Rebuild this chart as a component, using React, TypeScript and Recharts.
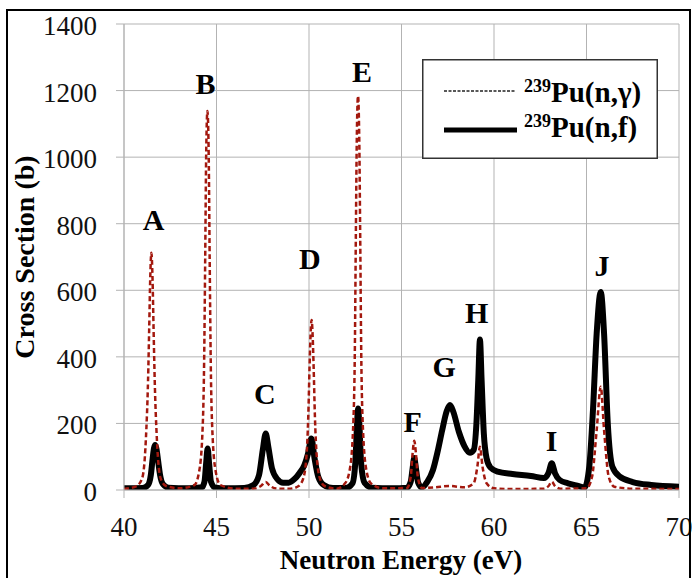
import React from 'react';
import { LineChart, Line, XAxis, YAxis, CartesianGrid, ReferenceDot, Legend } from 'recharts';

// Neutron energy (eV) and cross sections (b)
const fissionEnergy = [
  40.0, 41.0, 41.3, 41.45, 41.55, 41.62, 41.68, 41.75, 41.85, 41.95, 42.1, 42.4,
  43.5, 44.2, 44.35, 44.44, 44.52, 44.6, 44.7, 44.9, 45.5,
  46.5, 47.0, 47.3, 47.5, 47.66, 47.8, 48.0, 48.3, 48.6, 48.9, 49.2, 49.5, 49.75, 49.95, 50.13, 50.3, 50.5, 50.8, 51.3,
  52.0, 52.35, 52.5, 52.6, 52.65, 52.72, 52.82, 53.0, 53.4, 54.5,
  55.3, 55.5, 55.6, 55.69, 55.78, 55.9, 56.1, 56.4, 56.7, 56.95, 57.2, 57.45, 57.62, 57.8, 58.1, 58.4, 58.7, 58.9,
  59.05, 59.15, 59.24, 59.33, 59.45, 59.6, 59.8, 60.2, 61.0, 62.0, 62.7, 62.95, 63.12, 63.3, 63.55, 64.0, 64.5, 64.9,
  65.15, 65.35, 65.55, 65.77, 65.95, 66.15, 66.4, 66.8, 67.5, 68.5, 70.0,
];
const fissionXS = [
  5, 6, 15, 45, 95, 125, 135, 125, 85, 45, 18, 7,
  5, 8, 25, 80, 125, 80, 25, 8, 5,
  6, 15, 45, 120, 170, 130, 65, 32, 22, 22, 32, 52, 75, 110, 155, 95, 40, 15, 6,
  6, 20, 80, 200, 245, 200, 80, 22, 7, 5,
  7, 25, 65, 96, 65, 22, 8, 25, 60, 115, 180, 238, 255, 235, 175, 132, 112, 120,
  200, 330, 452, 330, 170, 95, 68, 55, 48, 42, 36, 52, 80, 50, 30, 20, 13, 8,
  70, 240, 470, 595, 470, 200, 70, 40, 24, 15, 10,
];

const captureEnergy = [
  40.0, 40.68, 40.98, 41.18, 41.3, 41.36, 41.42, 41.48, 41.54, 41.6, 41.66, 41.78, 41.98, 42.28, 43.0,
  43.81, 44.06, 44.23, 44.33, 44.39, 44.44, 44.51, 44.58, 44.63, 44.69, 44.79, 44.96, 45.21, 46.0,
  47.0, 47.4, 47.66, 47.9, 48.3, 49.0,
  49.44, 49.69, 49.86, 49.96, 50.03, 50.08, 50.14, 50.2, 50.25, 50.32, 50.42, 50.59, 50.84, 51.5,
  51.95, 52.2, 52.38, 52.48, 52.53, 52.58, 52.65, 52.72, 52.77, 52.82, 52.92, 53.1, 53.35, 54.0,
  55.3, 55.5, 55.6, 55.69, 55.78, 55.88, 56.1, 56.8, 57.6, 58.4, 58.9, 59.1, 59.24, 59.38, 59.6, 60.0,
  61.0, 62.7, 62.95, 63.12, 63.3, 63.6, 65.0, 65.3, 65.55, 65.77, 65.95, 66.2, 66.5, 67.5, 70.0,
];
const captureXS = [
  3, 12, 35, 150, 330, 480, 640, 713, 640, 480, 330, 150, 35, 12, 5,
  15, 55, 160, 380, 700, 1000, 1139, 1000, 700, 380, 160, 55, 15, 4,
  4, 12, 24, 12, 4, 4,
  12, 35, 100, 220, 370, 460, 511, 460, 370, 220, 100, 35, 12, 4,
  20, 60, 180, 430, 750, 1040, 1184, 1040, 750, 430, 180, 60, 20, 5,
  6, 40, 110, 148, 110, 40, 6, 8, 12, 8, 20, 70, 130, 70, 20, 5,
  3, 4, 12, 25, 12, 4, 5, 40, 180, 310, 180, 40, 10, 4, 3,
];

const xTicks = [40, 45, 50, 55, 60, 65, 70];
const yTicks = [0, 200, 400, 600, 800, 1000, 1200, 1400];

const peakLetters = ['A', 'B', 'C', 'D', 'E', 'F', 'G', 'H', 'I', 'J'];
const peakLetterEnergy = [41.6, 44.41, 47.61, 50.05, 52.86, 55.6, 57.3, 59.06, 63.11, 65.84];
const peakLetterXS = [811, 1220, 288, 694, 1256, 205, 369, 532, 148, 672];

const isotope = '239';
const captureName = 'Pu(n,γ)';
const fissionName = 'Pu(n,f)';

const fissionData = fissionEnergy.map((e, i) => ({ e, fission: fissionXS[i] }));
const captureData = captureEnergy.map((e, i) => ({ e, capture: captureXS[i] }));

const SERIF = '"Liberation Serif", "Times New Roman", serif';
const GRID = '#b3b3b3';
const CAPTURE_COLOR = '#a3180e';

const XTick = (props: any) => {
  const { x, payload } = props;
  return (
    <text x={x} y={536} textAnchor="middle" fontFamily={SERIF} fontSize={27} fill="#111">
      {payload.value}
    </text>
  );
};

const YTick = (props: any) => {
  const { y, payload } = props;
  return (
    <text x={97} y={y + 11} textAnchor="end" fontFamily={SERIF} fontSize={27} fill="#111">
      {payload.value}
    </text>
  );
};

const LegendBox = () => (
  <svg width={236} height={100} style={{ display: 'block' }}>
    <rect x={0.75} y={0.75} width={234.5} height={98.5} fill="#fff" stroke="#333" strokeWidth={1.5} />
    <line x1={22} x2={94} y1={32} y2={32} stroke="#222" strokeWidth={1.5} strokeDasharray="3 1.5" />
    <line x1={22} x2={95} y1={71} y2={71} stroke="#000" strokeWidth={5} />
    <text x={102} y={43} fontFamily={SERIF} fontWeight="bold" fill="#000">
      <tspan fontSize={18} dy={-10}>{isotope}</tspan>
      <tspan fontSize={29} dy={10}>{captureName}</tspan>
    </text>
    <text x={102} y={78} fontFamily={SERIF} fontWeight="bold" fill="#000">
      <tspan fontSize={18} dy={-10}>{isotope}</tspan>
      <tspan fontSize={29} dy={10}>{fissionName}</tspan>
    </text>
  </svg>
);

export default function App() {
  return (
    <div style={{ position: 'absolute', left: 0, top: 0, width: 692, height: 578, overflow: 'hidden', background: '#fff' }}>
      <LineChart width={692} height={578} margin={{ top: 24, right: 13, bottom: 0, left: 0 }}>
        <CartesianGrid stroke={GRID} strokeWidth={1} />
        <XAxis
          dataKey="e"
          type="number"
          domain={[40, 70]}
          ticks={xTicks}
          allowDataOverflow
          height={88}
          tickSize={8}
          axisLine={{ stroke: GRID }}
          tickLine={{ stroke: GRID }}
          tick={<XTick />}
          interval={0}
          label={{
            value: 'Neutron Energy (eV)',
            content: () => (
              <text x={401} y={569} textAnchor="middle" fontFamily={SERIF} fontWeight="bold" fontSize={27} fill="#000">
                Neutron Energy (eV)
              </text>
            ),
          }}
        />
        <YAxis
          type="number"
          domain={[0, 1400]}
          ticks={yTicks}
          allowDataOverflow
          width={124}
          tickSize={8}
          axisLine={{ stroke: GRID }}
          tickLine={{ stroke: GRID }}
          tick={<YTick />}
          interval={0}
          label={{
            value: 'Cross Section (b)',
            content: () => (
              <text
                x={34}
                y={257}
                transform="rotate(-90, 34, 257)"
                textAnchor="middle"
                fontFamily={SERIF}
                fontWeight="bold"
                fontSize={28}
                fill="#000"
              >
                Cross Section (b)
              </text>
            ),
          }}
        />
        <Legend
          layout="vertical"
          align="center"
          verticalAlign="middle"
          wrapperStyle={{ position: 'absolute', left: 422, top: 59, width: 236, height: 100 }}
          content={() => <LegendBox />}
        />
        <Line
          data={fissionData}
          dataKey="fission"
          name={isotope + fissionName}
          type="monotone"
          stroke="#000"
          strokeWidth={6}
          strokeLinejoin="round"
          dot={false}
          activeDot={false}
          isAnimationActive={false}
        />
        <Line
          data={captureData}
          dataKey="capture"
          name={isotope + captureName}
          type="monotone"
          stroke={CAPTURE_COLOR}
          strokeWidth={2.5}
          strokeDasharray="5 3"
          dot={false}
          activeDot={false}
          isAnimationActive={false}
        />
        {peakLetters.map((l, i) => (
          <ReferenceDot
            key={l}
            x={peakLetterEnergy[i]}
            y={peakLetterXS[i]}
            r={0}
            ifOverflow="visible"
            shape={(p: any) => (
              <text x={p.cx} y={p.cy + 10} textAnchor="middle" fontFamily={SERIF} fontWeight="bold" fontSize={30} fill="#000">
                {l}
              </text>
            )}
          />
        ))}
      </LineChart>
      <div
        style={{
          position: 'absolute',
          left: 6,
          top: 9,
          width: 685,
          height: 640,
          border: '2px solid #000',
          boxSizing: 'border-box',
          pointerEvents: 'none',
        }}
      />
    </div>
  );
}
